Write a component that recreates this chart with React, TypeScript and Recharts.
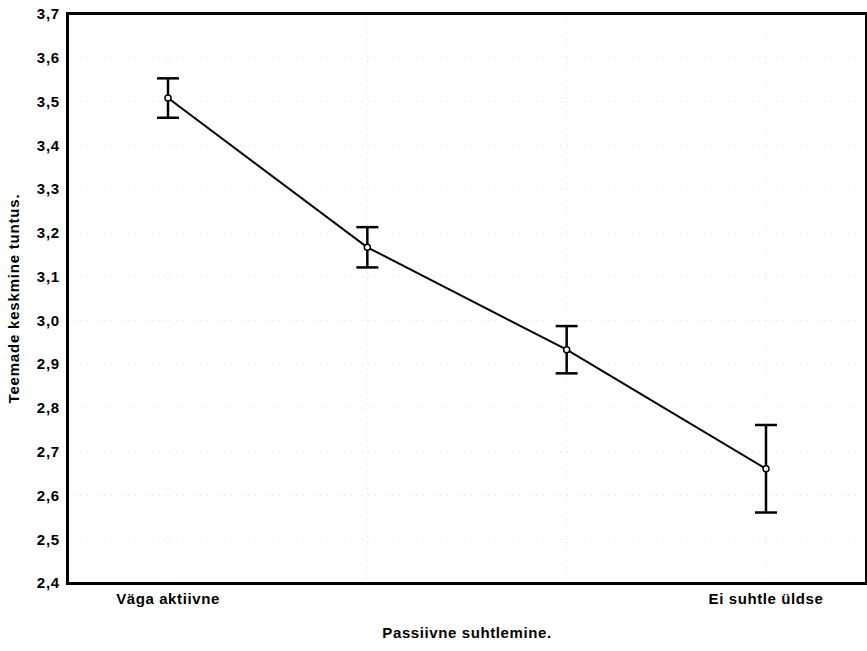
import React from 'react';
import { LineChart, Line, XAxis, YAxis, CartesianGrid, ErrorBar, Label } from 'recharts';

const categories = ['Väga aktiivne', '', '', 'Ei suhtle üldse'];
const means = [3.508, 3.167, 2.933, 2.661];
const errors = [0.045, 0.046, 0.054, 0.1];
const yTicks = [2.4, 2.5, 2.6, 2.7, 2.8, 2.9, 3.0, 3.1, 3.2, 3.3, 3.4, 3.5, 3.6, 3.7];

const data = categories.map((c, i) => ({ key: `c${i}`, label: c, mean: means[i], err: errors[i] }));

const font = '"Liberation Sans", Arial, sans-serif';

export default function App() {
  return (
    <div style={{ position: 'absolute', left: 0, top: 0, width: 867, height: 651, background: '#fff' }}>
      <LineChart width={867} height={651} data={data} margin={{ top: 14, right: 1, bottom: 0, left: 0 }}>
        <CartesianGrid stroke="#e0e0e0" strokeDasharray="1 5" />
        <XAxis
          dataKey="key"
          type="category"
          height={68}
          padding={{ left: 100, right: 100 }}
          axisLine={false}
          tickLine={false}
          tickMargin={4}
          tickFormatter={(v: string, i: number) => categories[i]}
          tick={{ fill: '#000', fontFamily: font, fontWeight: 'bold', fontSize: 15, letterSpacing: 0.6 }}
          interval={0}
        >
          <Label value="Passiivne suhtlemine." position="center" dy={16} style={{ fill: '#000', fontFamily: font, fontWeight: 'bold', fontSize: 15, letterSpacing: 0.6 }} />
        </XAxis>
        <YAxis
          type="number"
          domain={[2.4, 3.7]}
          ticks={yTicks}
          width={68}
          axisLine={false}
          tickLine={false}
          tickMargin={2}
          interval={0}
          tickFormatter={(v: number) => v.toFixed(1).replace('.', ',')}
          tick={{ fill: '#000', fontFamily: font, fontWeight: 'bold', fontSize: 15, letterSpacing: 0.8 }}
        >
          <Label value="Teemade keskmine tuntus." angle={-90} position="center" dx={-20} style={{ fill: '#000', fontFamily: font, fontWeight: 'bold', fontSize: 15, letterSpacing: 0.8, textAnchor: 'middle' }} />
        </YAxis>
        <Line
          type="linear"
          dataKey="mean"
          stroke="#000"
          strokeWidth={2}
          isAnimationActive={false}
          dot={{ r: 3, fill: '#fff', stroke: '#000', strokeWidth: 1.5 }}
          activeDot={false}
        >
          <ErrorBar dataKey="err" width={11} stroke="#000" strokeWidth={2.5} direction="y" />
        </Line>
      </LineChart>
      <div
        style={{
          position: 'absolute',
          left: 66,
          top: 12,
          width: 801,
          height: 573,
          boxSizing: 'border-box',
          border: '3px solid #000',
          borderRightWidth: 2,
          pointerEvents: 'none',
        }}
      />
    </div>
  );
}
